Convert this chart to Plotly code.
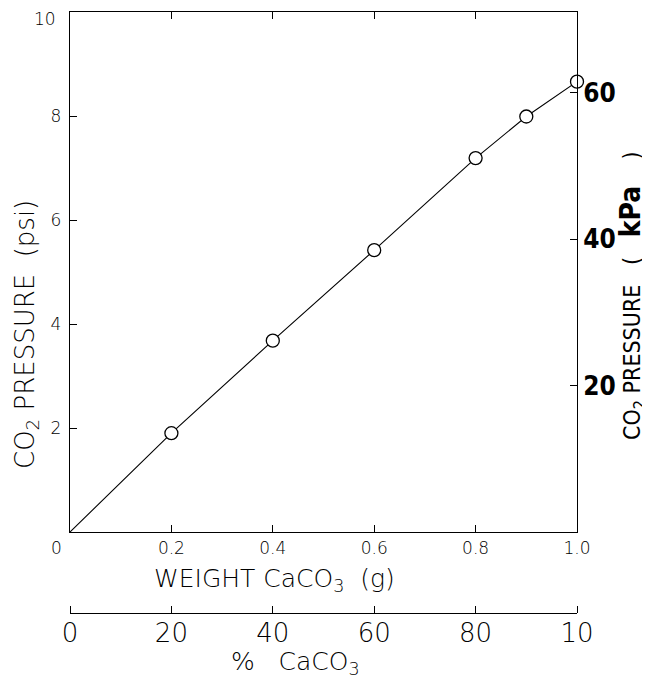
import plotly.graph_objects as go

# data
weight_g = [0.2, 0.4, 0.6, 0.8, 0.9, 1.0]
pressure_psi = [1.90, 3.68, 5.42, 7.19, 7.99, 8.66]
origin_x = [0.0]
origin_y = [0.0]

x_tickvals = [0, 0.2, 0.4, 0.6, 0.8, 1.0]
x_ticktext = ["0&nbsp;&nbsp;&nbsp;&nbsp;&nbsp;", "0.2", "0.4", "0.6", "0.8", "1.0"]
y_tickvals = [2, 4, 6, 8, 10]
y_ticktext = ["2", "4", "6", "8", ""]
y_top_label = "10"
kpa_tickvals = [20, 40, 60]
kpa_ticktext = ["20", "40", "60"]
pct_tickvals = [0, 20, 40, 60, 80, 100]
pct_ticktext = ["0", "20", "40", "60", "80", "10"]

OFF = 8  # page body margin
W, H = 650 - OFF, 681 - OFF
L, R, T, B = 70 - OFF, 73, 12 - OFF, 40
pw, ph = W - L - R, H - T - B
def px(x):
    return (x - OFF - L) / pw
def py(y):
    return (H - B - (y - OFF)) / ph

LIGHT = "DejaVu Sans"
LW = 200
NARROW = "Liberation Sans Narrow, DejaVu Sans Condensed, DejaVu Sans"
main_bottom = py(532)

fig = go.Figure()
fig.add_trace(go.Scatter(x=origin_x + weight_g, y=origin_y + pressure_psi, mode="lines",
                         line=dict(color="black", width=1.1), showlegend=False, hoverinfo="skip"))
fig.add_trace(go.Scatter(x=weight_g, y=pressure_psi, mode="markers", cliponaxis=False,
                         marker=dict(size=13, color="white", line=dict(color="black", width=1.3)),
                         showlegend=False))
fig.add_trace(go.Scatter(x=[None], y=[None], xaxis="x2", yaxis="y2", showlegend=False))
fig.add_trace(go.Scatter(x=[None], y=[None], xaxis="x3", yaxis="y", showlegend=False))

ax_common = dict(showgrid=False, zeroline=False, showline=True, linecolor="black", linewidth=1.3,
                 ticks="inside", tickcolor="black", ticklen=7, tickwidth=1.2, automargin=False,
                 ticklabeloverflow="allow")
fig.update_layout(
    template="none",
    width=W, height=H, margin=dict(l=L, r=R, t=T, b=B, pad=0),
    plot_bgcolor="white", paper_bgcolor="white",
    font=dict(family=LIGHT, color="black", weight=LW),
    xaxis=dict(**ax_common, range=[0, 1.0], domain=[0, 1], mirror="ticks", anchor="y",
               tickvals=x_tickvals, ticktext=x_ticktext,
               tickfont=dict(size=17, family=LIGHT, color="black", weight=LW)),
    yaxis=dict(**ax_common, range=[0, 10], domain=[main_bottom, 1], mirror=True, anchor="x",
               tickvals=y_tickvals, ticktext=y_ticktext, ticklabelstandoff=4,
               tickfont=dict(size=17, family=LIGHT, color="black", weight=LW)),
    yaxis2=dict(**ax_common, range=[0, 71], domain=[main_bottom, 1], overlaying="y", side="right",
                anchor="x", tickvals=kpa_tickvals, ticktext=kpa_ticktext,
                tickfont=dict(size=26, family=NARROW, color="black", weight="bold")),
)
# percent axis: line + upward ticks (xaxis2) and labels (xaxis3)
pct_line = dict(ax_common)
pct_line.update(ticks="outside", showticklabels=False)
fig.update_layout(
    xaxis2=dict(**pct_line, range=[0, 100], overlaying="x", anchor="free", position=py(613),
                side="top", tickvals=pct_tickvals),
    xaxis3=dict(showgrid=False, zeroline=False, showline=False, ticks="", automargin=False,
                ticklabeloverflow="allow", range=[0, 100], overlaying="x", anchor="free",
                position=py(613), side="bottom", tickvals=pct_tickvals, ticktext=pct_ticktext,
                ticklabelstandoff=2,
                tickfont=dict(size=26, family=LIGHT, color="black", weight=LW)),
)

# top y label slightly below the tick, as in the original
fig.add_annotation(text=y_top_label, x=px(58), y=y_tickvals[-1], xref="paper", yref="y",
                   yshift=-7, showarrow=False, xanchor="right", yanchor="middle",
                   font=dict(size=17, family=LIGHT, color="black", weight=LW))

ann = [
    dict(text="CO<sub>2</sub> PRESSURE&nbsp; (psi)", x=px(26), y=py(335), textangle=-90,
         size=26, family=LIGHT),
    dict(text="CO<sub>2</sub> PRESSURE&nbsp;&nbsp; (&nbsp;&nbsp;&nbsp;<b><span style='font-size:28px'>kPa</span></b>&nbsp;&nbsp;&nbsp;&nbsp;)",
         x=px(632), y=py(296), textangle=-90, size=23, family="DejaVu Sans Condensed, DejaVu Sans"),
    dict(text="WEIGHT CaCO<sub>3</sub>&nbsp; (g)", x=px(274), y=py(580), textangle=0,
         size=25, family=LIGHT),
    dict(text="%&nbsp;&nbsp; CaCO<sub>3</sub>", x=px(295), y=py(663), textangle=0,
         size=25, family=LIGHT),
]
for a in ann:
    fig.add_annotation(text=a["text"], x=a["x"], y=a["y"], xref="paper", yref="paper",
                       showarrow=False, textangle=a["textangle"], xanchor="center", yanchor="middle",
                       font=dict(size=a["size"], family=a["family"], color="black", weight=LW))

fig.write_html("out.html")
